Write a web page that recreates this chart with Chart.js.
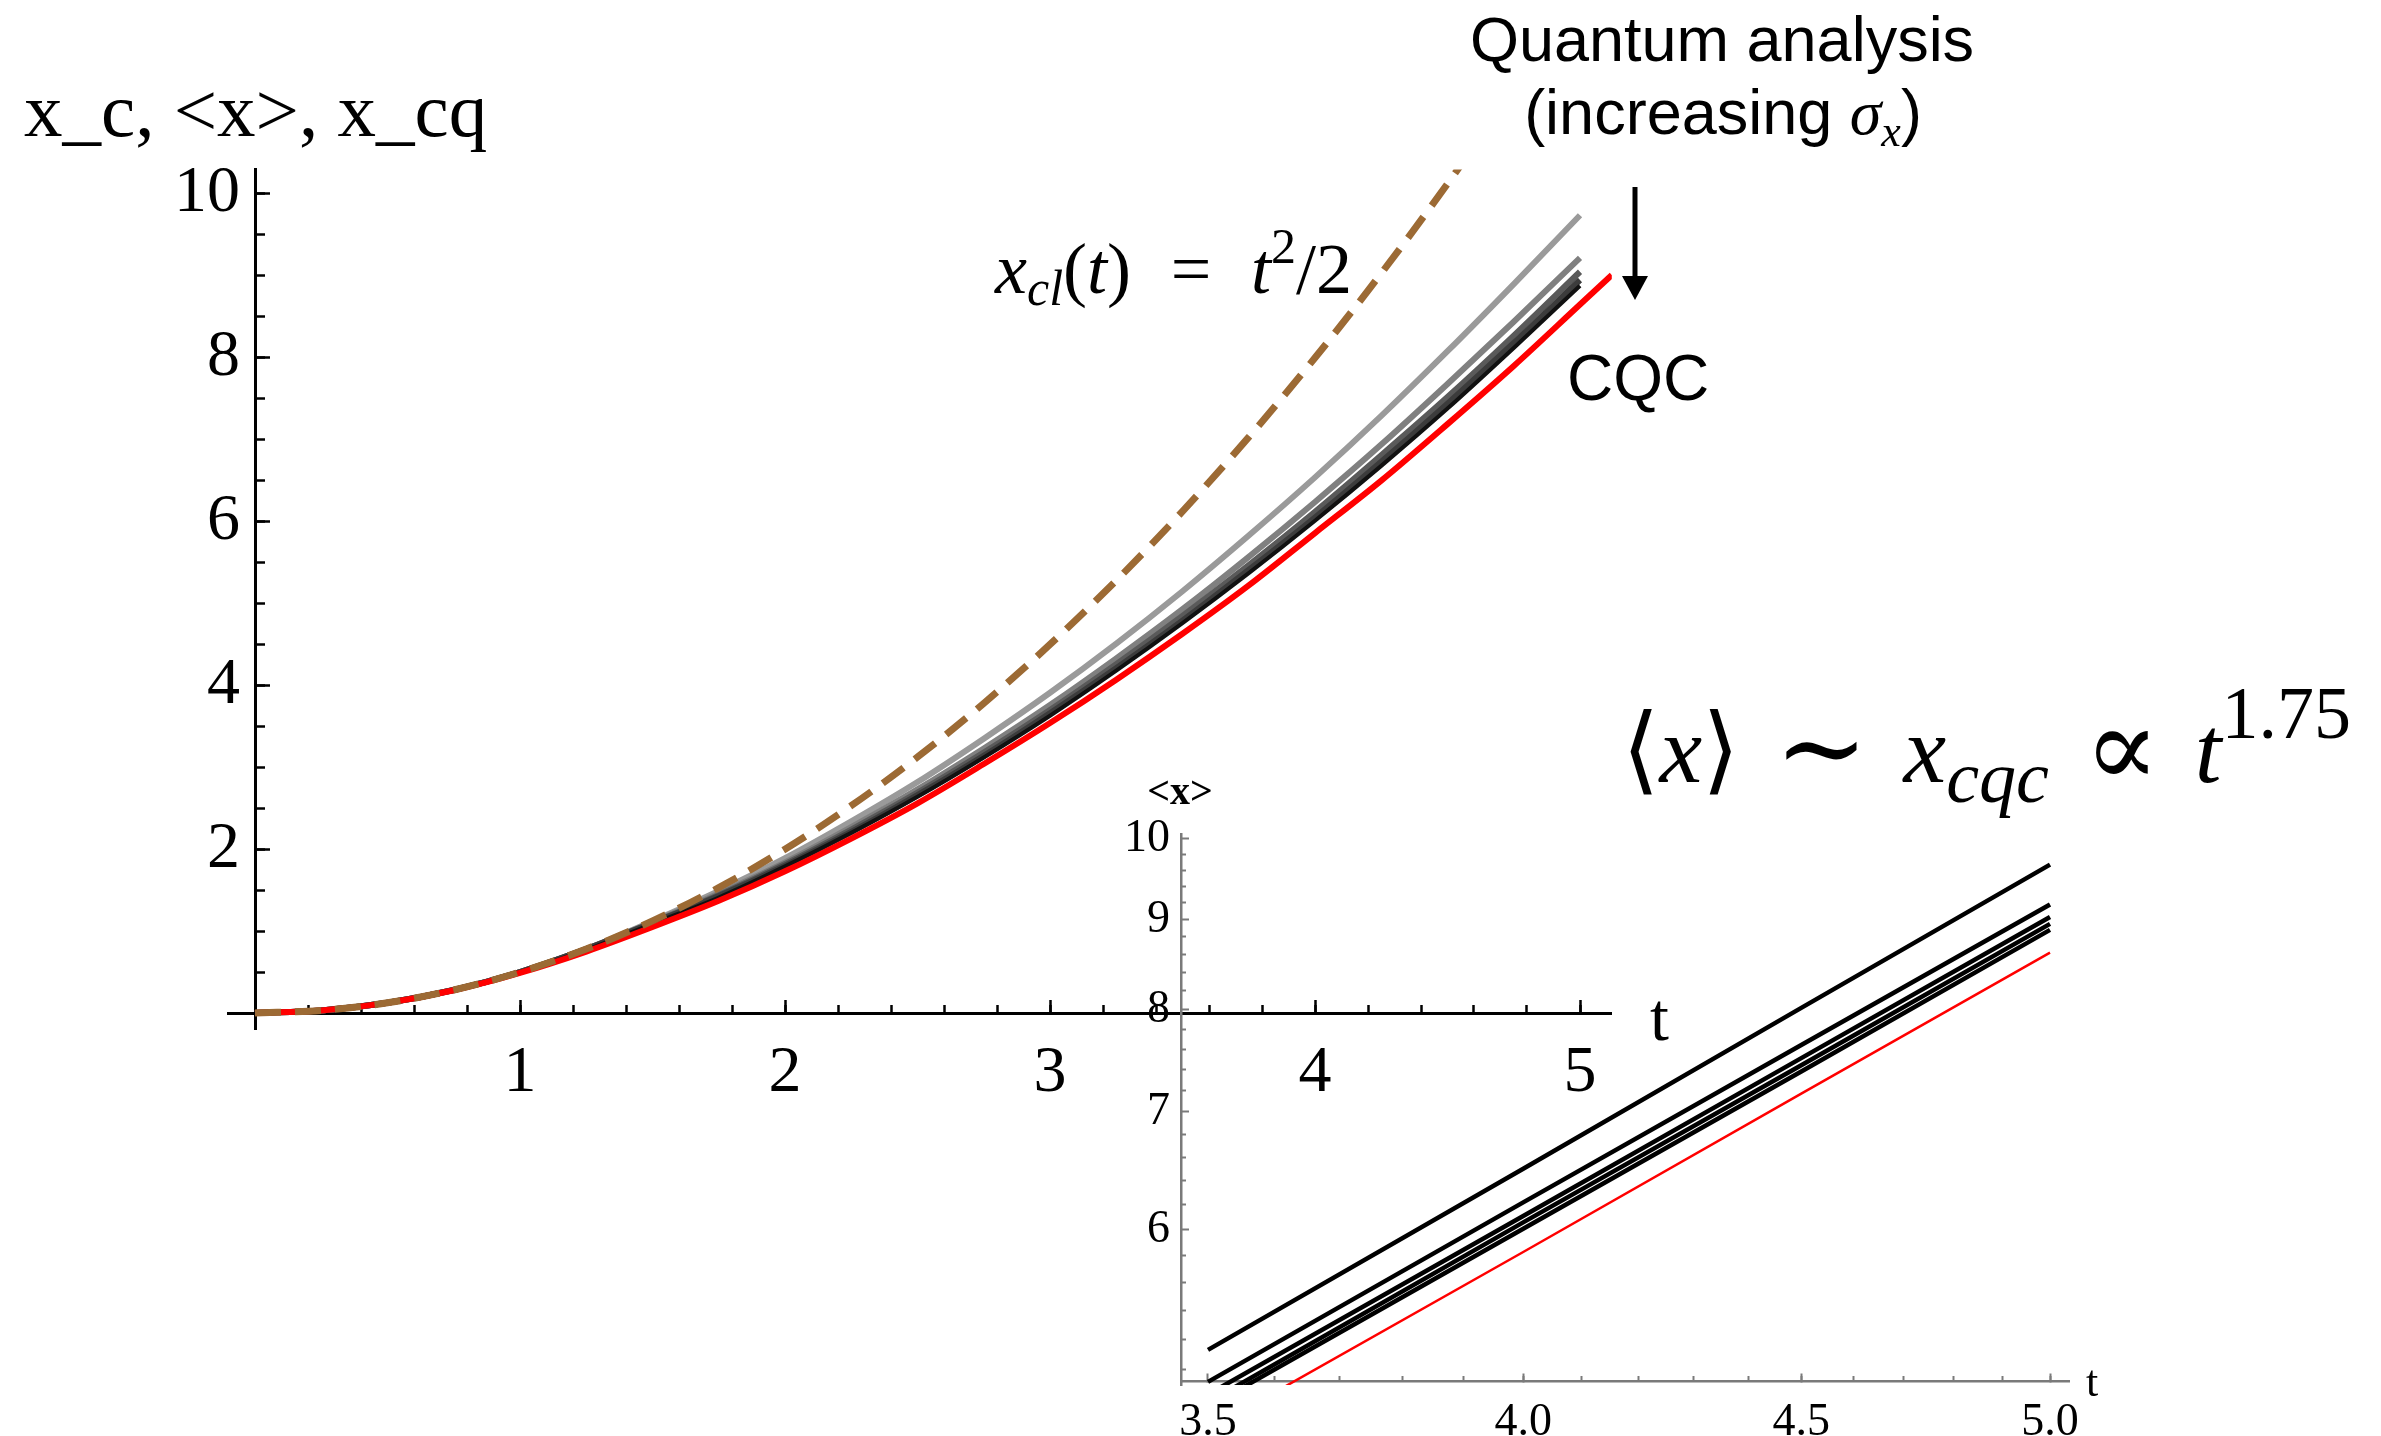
<!DOCTYPE html>
<html>
<head>
<meta charset="utf-8">
<script src="https://cdn.jsdelivr.net/npm/chart.js@4.4.0/dist/chart.umd.min.js"></script>
<style>
html,body{margin:0;padding:0;background:#fff;overflow:hidden}
#wrap{position:relative;width:2381px;height:1436px}
#wrap canvas{position:absolute;left:0;top:0}
</style>
</head>
<body>
<div id="wrap">
<canvas id="main" width="2381" height="1436" style="width:2381px;height:1436px"></canvas>
<canvas id="inset" width="2381" height="1436" style="width:2381px;height:1436px"></canvas>
</div>
<script>
// ---------------- DATA ----------------
// main plot: classical trajectory (dashed)
const tClassical = [0,0.25,0.5,0.75,1,1.25,1.5,1.75,2,2.25,2.5,2.75,3,3.25,3.5,3.75,4,4.25,4.5,4.75];
const xClassical = [0,0.031,0.125,0.281,0.5,0.781,1.125,1.531,2.0,2.531,3.125,3.781,4.5,5.281,6.125,7.031,8.0,9.031,10.125,11.281];
// main plot: quantum <x> curves (increasing sigma_x, light gray -> black)
const tQuantum = [0,0.25,0.5,0.75,1,1.25,1.5,1.75,2,2.25,2.5,2.75,3,3.25,3.5,3.75,4,4.25,4.5,4.75,5];
const xQuantum1 = [0,0.031,0.125,0.281,0.50,0.78,1.12,1.49,1.89,2.34,2.82,3.35,3.91,4.51,5.15,5.83,6.54,7.29,8.08,8.90,9.74];
const xQuantum2 = [0,0.031,0.125,0.281,0.50,0.78,1.11,1.46,1.84,2.27,2.73,3.23,3.76,4.33,4.93,5.57,6.24,6.94,7.68,8.44,9.22];
const xQuantum3 = [0,0.031,0.125,0.281,0.50,0.78,1.10,1.44,1.82,2.24,2.69,3.18,3.70,4.26,4.85,5.47,6.12,6.81,7.52,8.27,9.05];
const xQuantum4 = [0,0.031,0.125,0.281,0.50,0.78,1.10,1.43,1.80,2.21,2.66,3.14,3.66,4.21,4.79,5.41,6.05,6.73,7.44,8.18,8.95];
const xQuantum5 = [0,0.031,0.125,0.281,0.50,0.77,1.09,1.41,1.79,2.20,2.64,3.12,3.63,4.18,4.76,5.37,6.01,6.68,7.38,8.12,8.88];
// main plot: CQC (red)
const tCqc = [0,0.25,0.5,0.75,1,1.25,1.5,1.75,2,2.25,2.5,2.75,3,3.25,3.5,3.75,4,4.25,4.5,4.75,5,5.12];
const xCqc = [0,0.031,0.124,0.278,0.49,0.75,1.05,1.37,1.73,2.13,2.56,3.04,3.54,4.07,4.63,5.22,5.86,6.50,7.19,7.90,8.65,9.01];
// main axes ticks
const xTicksMajor = [1,2,3,4,5];
const xTickLabels = ['1','2','3','4','5'];
const xTicksMinor = [0.2,0.4,0.6,0.8,1.0,1.2,1.4,1.6,1.8,2.0,2.2,2.4,2.6,2.8,3.0,3.2,3.4,3.6,3.8,4.0,4.2,4.4,4.6,4.8,5.0];
const yTicksMajor = [2,4,6,8,10];
const yTickLabels = ['2','4','6','8','10'];
const yTicksMinor = [0.5,1,1.5,2,2.5,3,3.5,4,4.5,5,5.5,6,6.5,7,7.5,8,8.5,9,9.5,10];

// inset (log-log): <x> vs t
const tInset = [3.5,4.0,4.5,5.0];
const insetQuantum1 = [5.13,6.50,8.02,9.67];
const insetQuantum2 = [4.92,6.22,7.64,9.18];
const insetQuantum3 = [4.84,6.11,7.51,9.03];
const insetQuantum4 = [4.79,6.06,7.44,8.95];
const insetQuantum5 = [4.76,6.01,7.38,8.88];
const insetCqc      = [4.62,5.83,7.17,8.62];
const insetXTicksMajor = [3.5,4.0,4.5,5.0];
const insetXTickLabels = ['3.5','4.0','4.5','5.0'];
const insetXTicksMinor = [3.6,3.7,3.8,3.9,4.0,4.1,4.2,4.3,4.4,4.5,4.6,4.7,4.8,4.9,5.0];
const insetYTicksMajor = [6,7,8,9,10];
const insetYTickLabels = ['6','7','8','9','10'];
const insetYTicksMinor = [5.0,5.2,5.4,5.6,5.8,6.2,6.4,6.6,6.8,7.2,7.4,7.6,7.8,8.2,8.4,8.6,8.8,9.2,9.4,9.6,9.8];

// ---------------- helpers ----------------
const SERIF = '"Liberation Serif", "Times New Roman", "DejaVu Serif", serif';
const SANS = '"Liberation Sans", Arial, Helvetica, sans-serif';
const pts = (xs, ys) => ys.map((y, i) => ({x: xs[i], y}));

function tickAxis(axis, type, min, max, pos, values, len, color, width, borderWidth) {
  return {
    type, axis, min, max, position: pos,
    afterBuildTicks: s => { s.ticks = values.map(v => ({value: v})); },
    ticks: {display: false, autoSkip: false},
    grid: {display: true, drawOnChartArea: false, drawTicks: true, tickLength: -len, tickColor: color, tickWidth: width},
    border: borderWidth ? {display: true, color, width: borderWidth} : {display: false}
  };
}
function labelAxis(axis, type, min, max, pos, values, labels, font, padding) {
  return {
    type, axis, min, max, position: pos,
    afterBuildTicks: s => { s.ticks = values.map(v => ({value: v})); },
    ticks: {display: true, autoSkip: false, maxRotation: 0, minRotation: 0, padding, color: '#000', font,
            callback: (v, i) => labels[i]},
    grid: {display: false, drawTicks: false, tickLength: 0},
    border: {display: false}
  };
}
// draw a sequence of text runs; extra space is distributed in weighted gaps
function drawRuns(ctx, runs, x, y, align, target) {
  ctx.save();
  ctx.textBaseline = 'alphabetic';
  ctx.textAlign = 'left';
  ctx.fillStyle = '#000';
  let natural = 0, gsum = 0;
  const w = runs.map(r => { ctx.font = r.f; const m = ctx.measureText(r.t).width; natural += m; gsum += (r.g || 0); return m; });
  const unit = target && gsum ? (target - natural) / gsum : 0;
  const total = natural + unit * gsum;
  let cx = align === 'center' ? x - total / 2 : x;
  runs.forEach((r, i) => { ctx.font = r.f; ctx.fillText(r.t, cx, y + (r.dy || 0)); cx += w[i] + (r.g || 0) * unit; });
  ctx.restore();
}

const annotations = {
  id: 'annotations',
  afterDraw(chart) {
    const ctx = chart.ctx;
    ctx.save();
    ctx.fillStyle = '#000';
    ctx.textBaseline = 'alphabetic';
    // axis titles
    ctx.font = '77px ' + SERIF;
    ctx.textAlign = 'left';
    ctx.fillText('x_c, <x>, x_cq', 24, 136);
    ctx.font = '68px ' + SERIF;
    ctx.fillText('t', 1650, 1040);
    // Quantum analysis
    ctx.font = '63px ' + SANS;
    ctx.textAlign = 'center';
    ctx.fillText('Quantum analysis', 1722, 61);
    ctx.restore();
    drawRuns(ctx, [
      {t: '(increasing ', f: '63px ' + SANS},
      {t: 'σ', f: 'italic 64px ' + SERIF},
      {t: 'x', f: 'italic 44px ' + SERIF, dy: 12},
      {t: ')', f: '63px ' + SANS}
    ], 1723, 134, 'center');
    // arrow
    ctx.save();
    ctx.strokeStyle = '#000'; ctx.fillStyle = '#000'; ctx.lineWidth = 5;
    ctx.beginPath(); ctx.moveTo(1635, 187); ctx.lineTo(1635, 282); ctx.stroke();
    ctx.beginPath(); ctx.moveTo(1622, 276); ctx.lineTo(1648, 276); ctx.lineTo(1635, 300); ctx.closePath(); ctx.fill();
    ctx.font = '64px ' + SANS; ctx.textAlign = 'left';
    ctx.fillText('CQC', 1567, 400);
    ctx.restore();
    // x_cl(t) = t^2/2
    drawRuns(ctx, [
      {t: 'x', f: 'italic 72px ' + SERIF},
      {t: 'cl', f: 'italic 50px ' + SERIF, dy: 12},
      {t: '(', f: '72px ' + SERIF},
      {t: 't', f: 'italic 72px ' + SERIF},
      {t: ')', f: '72px ' + SERIF, g: 1},
      {t: '=', f: '72px ' + SERIF, g: 1},
      {t: 't', f: 'italic 72px ' + SERIF},
      {t: '2', f: '50px ' + SERIF, dy: -30},
      {t: '/2', f: '72px ' + SERIF}
    ], 995, 293, 'left', 357);
    // <x> ~ x_cqc ∝ t^1.75
    drawRuns(ctx, [
      {t: '⟨', f: '96px ' + SERIF},
      {t: 'x', f: 'italic 96px ' + SERIF},
      {t: '⟩', f: '96px ' + SERIF, g: 1},
      {t: '∼', f: '112px ' + SERIF, dy: 4, g: 1},
      {t: 'x', f: 'italic 96px ' + SERIF},
      {t: 'cqc', f: 'italic 74px ' + SERIF, dy: 20, g: 1},
      {t: '∝', f: '112px ' + SERIF, dy: 4, g: 1},
      {t: 't', f: 'italic 96px ' + SERIF},
      {t: '1.75', f: '74px ' + SERIF, dy: -44}
    ], 1622, 782, 'left', 729);
  }
};

// ---------------- MAIN CHART ----------------
const MX = {min: -0.1, max: 5.12};
const MY = {min: -0.2, max: 10.3};
const mainFont = {family: SERIF, size: 66};
const lineDs = (label, xs, ys, color, width, extra) => Object.assign({
  label, data: pts(xs, ys), borderColor: color, borderWidth: width, pointRadius: 0,
  cubicInterpolationMode: 'monotone', fill: false, xAxisID: 'x', yAxisID: 'y'
}, extra || {});

new Chart(document.getElementById('main'), {
  type: 'line',
  data: {
    datasets: [
      lineDs('x_cl', tClassical, xClassical, 'rgb(156,106,52)', 7, {borderDash: [26, 14]}),
      lineDs('CQC', tCqc, xCqc, '#ff0000', 6),
      lineDs('q5', tQuantum, xQuantum5, '#111111', 4),
      lineDs('q4', tQuantum, xQuantum4, '#3c3c3c', 6),
      lineDs('q3', tQuantum, xQuantum3, '#5a5a5a', 6),
      lineDs('q2', tQuantum, xQuantum2, '#808080', 6),
      lineDs('q1', tQuantum, xQuantum1, '#9a9a9a', 6)
    ]
  },
  options: {
    responsive: false, animation: false, devicePixelRatio: 1,
    layout: {padding: {left: 228.5, right: 769.2, top: 169.4, bottom: 406.6}},
    plugins: {legend: {display: false}, tooltip: {enabled: false}},
    scales: {
      x: labelAxis('x', 'linear', MX.min, MX.max, {y: 0}, xTicksMajor, xTickLabels, mainFont, 21),
      xMaj: tickAxis('x', 'linear', MX.min, MX.max, {y: 0}, xTicksMajor, 15, '#000', 2.5, 3),
      xMin: tickAxis('x', 'linear', MX.min, MX.max, {y: 0}, xTicksMinor, 8, '#000', 2.5, 0),
      y: labelAxis('y', 'linear', MY.min, MY.max, {x: -0.0566}, yTicksMajor, yTickLabels, mainFont, 0),
      yMaj: tickAxis('y', 'linear', MY.min, MY.max, {x: 0}, yTicksMajor, 16, '#000', 2.5, 3),
      yMin: tickAxis('y', 'linear', MY.min, MY.max, {x: 0}, yTicksMinor, 10, '#000', 2.5, 0)
    }
  },
  plugins: [annotations]
});

// ---------------- INSET CHART ----------------
const IX = {min: 3.4602, max: 5.0404};
const IY = {min: 4.926, max: 10.065};
const insetGray = '#7a7a7a';
const insetLabels = {
  id: 'insetLabels',
  afterDraw(chart) {
    const ctx = chart.ctx;
    ctx.save();
    ctx.fillStyle = '#000';
    ctx.textBaseline = 'alphabetic';
    ctx.textAlign = 'center';
    ctx.font = 'bold 40px ' + SERIF;
    ctx.fillText('<x>', 1180, 804);
    ctx.textAlign = 'left';
    ctx.font = '44px ' + SERIF;
    ctx.fillText('t', 2086, 1396);
    ctx.restore();
  }
};
const insetDs = (label, ys, color, width) => ({
  label, data: pts(tInset, ys), borderColor: color, borderWidth: width, pointRadius: 0,
  tension: 0, fill: false, xAxisID: 'x', yAxisID: 'y'
});
new Chart(document.getElementById('inset'), {
  type: 'line',
  data: {
    datasets: [
      insetDs('cqc', insetCqc, '#ff0000', 2.5),
      insetDs('q5', insetQuantum5, '#000', 4.5),
      insetDs('q4', insetQuantum4, '#000', 4.5),
      insetDs('q3', insetQuantum3, '#000', 4.5),
      insetDs('q2', insetQuantum2, '#000', 4.5),
      insetDs('q1', insetQuantum1, '#000', 4.5)
    ]
  },
  options: {
    responsive: false, animation: false, devicePixelRatio: 1,
    layout: {padding: {left: 1181, right: 312, top: 834, bottom: 51}},
    plugins: {legend: {display: false}, tooltip: {enabled: false}},
    scales: {
      x: labelAxis('x', 'logarithmic', IX.min, IX.max, {y: IY.min}, insetXTicksMajor, insetXTickLabels, {family: SERIF, size: 46}, 14),
      xMaj: tickAxis('x', 'logarithmic', IX.min, IX.max, {y: IY.min}, insetXTicksMajor, 9, insetGray, 2, 2.5),
      xMin: tickAxis('x', 'logarithmic', IX.min, IX.max, {y: IY.min}, insetXTicksMinor, 5, insetGray, 2, 0),
      y: labelAxis('y', 'logarithmic', IY.min, IY.max, {x: 3.4441}, insetYTicksMajor, insetYTickLabels, {family: SERIF, size: 46}, 0),
      yMaj: tickAxis('y', 'logarithmic', IY.min, IY.max, {x: IX.min}, insetYTicksMajor, 9, insetGray, 2, 2.5),
      yMin: tickAxis('y', 'logarithmic', IY.min, IY.max, {x: IX.min}, insetYTicksMinor, 5, insetGray, 2, 0)
    }
  },
  plugins: [insetLabels]
});
</script>
</body>
</html>
